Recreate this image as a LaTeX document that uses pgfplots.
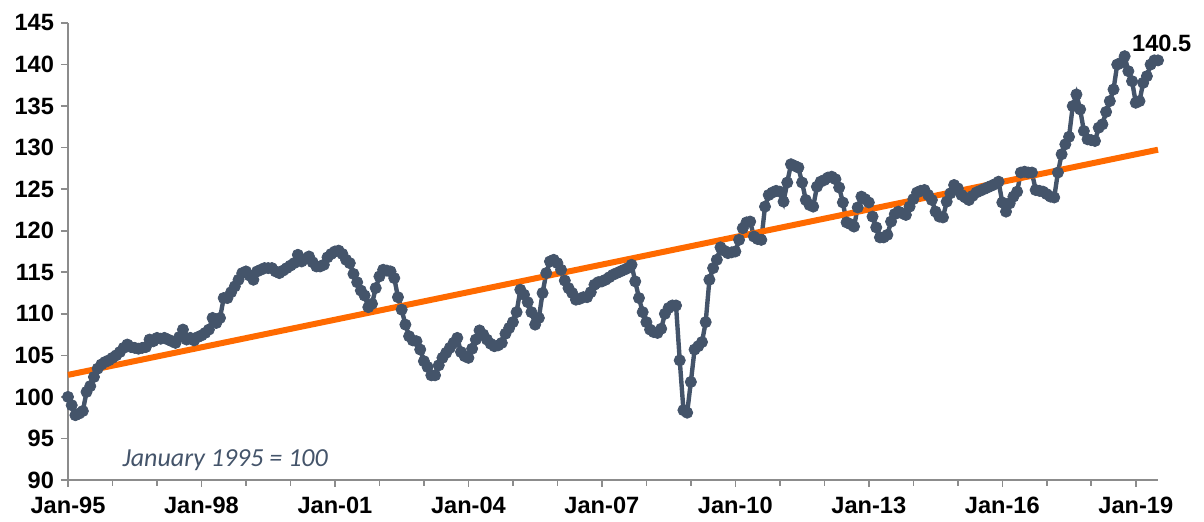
\documentclass[border=0pt]{standalone}
\usepackage{pgfplots}
\pgfplotsset{compat=1.18}
\usepackage{pgfplotstable}
\usepackage{fontspec}
\setmainfont{Liberation Sans}
\newfontfamily\carlito{Carlito}
\definecolor{series}{HTML}{44546A}
\definecolor{trend}{HTML}{FF6A00}
\definecolor{axisgray}{HTML}{8C8C8C}
\pgfplotstableread{
m v
0 100.0
1 99.0
2 97.8
3 98.0
4 98.3
5 100.6
6 101.3
7 102.4
8 103.4
9 103.9
10 104.2
11 104.4
12 104.7
13 105.0
14 105.4
15 105.9
16 106.3
17 106.0
18 105.9
19 105.8
20 105.9
21 106.0
22 106.9
23 106.7
24 107.1
25 107.0
26 107.1
27 106.9
28 106.7
29 106.5
30 107.2
31 108.1
32 106.9
33 107.1
34 106.8
35 107.2
36 107.4
37 107.7
38 108.1
39 109.5
40 108.9
41 109.5
42 111.9
43 111.9
44 112.6
45 113.3
46 114.1
47 114.9
48 115.1
49 114.6
50 114.1
51 115.1
52 115.3
53 115.5
54 115.5
55 115.5
56 115.1
57 114.9
58 115.2
59 115.5
60 115.8
61 116.1
62 117.1
63 116.3
64 116.6
65 116.9
66 116.2
67 115.7
68 115.7
69 115.9
70 116.8
71 117.2
72 117.5
73 117.6
74 117.2
75 116.5
76 116.1
77 114.8
78 113.8
79 112.8
80 112.2
81 110.8
82 111.2
83 113.1
84 114.5
85 115.3
86 115.2
87 115.1
88 114.3
89 112.0
90 110.5
91 108.7
92 107.3
93 106.8
94 106.7
95 105.7
96 104.3
97 103.6
98 102.6
99 102.6
100 103.8
101 104.7
102 105.3
103 105.9
104 106.5
105 107.1
106 105.4
107 104.9
108 104.7
109 105.8
110 106.9
111 108.0
112 107.5
113 106.9
114 106.4
115 106.1
116 106.2
117 106.5
118 107.6
119 108.3
120 109.0
121 110.2
122 112.9
123 112.3
124 111.4
125 110.2
126 108.7
127 109.5
128 112.5
129 114.9
130 116.3
131 116.5
132 116.1
133 115.3
134 114.0
135 113.1
136 112.5
137 111.7
138 111.8
139 112.0
140 112.0
141 112.6
142 113.5
143 113.8
144 113.9
145 114.1
146 114.4
147 114.7
148 114.9
149 115.1
150 115.3
151 115.5
152 115.9
153 113.9
154 111.9
155 110.2
156 109.0
157 108.1
158 107.8
159 107.7
160 108.2
161 110.0
162 110.7
163 111.0
164 111.0
165 104.4
166 98.4
167 98.1
168 101.8
169 105.7
170 106.1
171 106.6
172 109.0
173 114.1
174 115.5
175 116.5
176 118.0
177 117.6
178 117.3
179 117.4
180 117.5
181 118.9
182 120.3
183 121.0
184 121.1
185 119.3
186 119.0
187 118.9
188 122.9
189 124.3
190 124.6
191 124.8
192 124.7
193 123.5
194 125.8
195 128.0
196 127.8
197 127.6
198 125.8
199 123.7
200 123.1
201 122.9
202 125.3
203 125.9
204 126.1
205 126.4
206 126.5
207 126.2
208 125.2
209 123.4
210 121.0
211 120.8
212 120.5
213 122.8
214 124.1
215 123.8
216 123.4
217 121.7
218 120.4
219 119.2
220 119.2
221 119.5
222 121.1
223 122.0
224 122.3
225 122.1
226 121.9
227 122.9
228 123.8
229 124.6
230 124.8
231 124.9
232 124.3
233 123.7
234 122.3
235 121.7
236 121.6
237 123.5
238 124.5
239 125.5
240 125.1
241 124.3
242 124.0
243 123.7
244 124.2
245 124.6
246 124.8
247 125.0
248 125.2
249 125.4
250 125.6
251 125.9
252 123.4
253 122.3
254 123.3
255 124.1
256 124.7
257 127.0
258 127.1
259 127.0
260 127.0
261 124.9
262 124.8
263 124.7
264 124.4
265 124.1
266 124.0
267 127.0
268 129.2
269 130.4
270 131.3
271 135.0
272 136.4
273 134.6
274 132.0
275 131.0
276 130.9
277 130.8
278 132.4
279 132.8
280 134.3
281 135.6
282 137.0
283 140.0
284 140.2
285 141.0
286 139.2
287 138.0
288 135.4
289 135.6
290 137.8
291 138.6
292 140.0
293 140.5
294 140.5
}\datatable
\pgfplotstableread{
m v
0 102.65
294 129.75
}\trendtable
\begin{document}
\begin{tikzpicture}
\begin{axis}[
  name=ax,
  scale only axis,
  width=545pt, height=228.5pt,
  xmin=0, xmax=294, ymin=90, ymax=145,
  axis x line*=bottom, axis y line*=left,
  axis line style={draw=axisgray, line width=0.8pt, -},
  tick align=outside,
  xtick pos=bottom, ytick pos=left,
  xtick={0,36,72,108,144,180,216,252,288},
  xticklabels={Jan-95,Jan-98,Jan-01,Jan-04,Jan-07,Jan-10,Jan-13,Jan-16,Jan-19},
  minor xtick={12,24,48,60,84,96,120,132,156,168,192,204,228,240,264,276},
  ytick={90,95,...,145},
  major tick length=3.5pt, minor tick length=3pt,
  every tick/.style={draw=axisgray, line width=0.8pt},
  every minor tick/.style={draw=axisgray, line width=0.8pt},
  ticklabel style={font=\bfseries\fontsize{11.8}{13}\selectfont, text=black},
  xticklabel style={yshift=-1.5pt},
  /pgf/number format/assume math mode=true,
  clip=false,
]
\addplot[color=series, line width=2.2pt, mark=*, mark size=2.8pt,
  mark options={solid, fill=series, draw=series, line width=0.4pt}] table[x=m, y=v] {\datatable};
\addplot[color=trend, line width=3pt] table[x=m, y=v] {\trendtable};
\node[anchor=south, font=\bfseries\fontsize{11.8}{13}\selectfont, inner sep=1pt]
  at (axis cs:295,141.3) {140.5};
\node[anchor=west, font=\carlito\itshape\fontsize{13}{15}\selectfont, text=series, inner sep=0pt]
  at (axis cs:14.6,92.4) {January 1995 = 100};
\end{axis}
\path ([shift={(-34pt,-21pt)}]ax.south west) rectangle ([shift={(23pt,11.5pt)}]ax.north east);
\end{tikzpicture}
\end{document}
